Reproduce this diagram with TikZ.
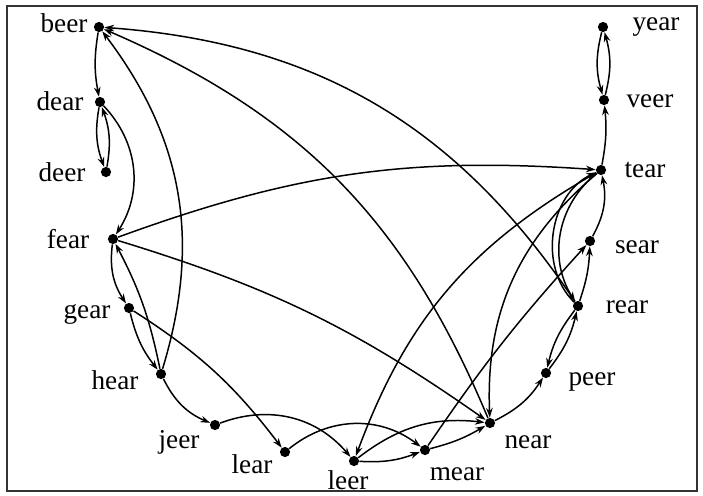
\documentclass[tikz,border=0pt]{standalone}
\usepackage{fontspec}
\setmainfont{Liberation Serif}
\usetikzlibrary{arrows.meta}

\begin{document}
\begin{tikzpicture}[x=0.02cm,y=-0.02cm,
  dot/.style={circle,fill,inner sep=0pt,minimum size=5.8pt},
  word/.style={anchor=base,inner sep=0pt,font=\fontsize{15.5}{18}\selectfont},
  link/.style={line width=0.85pt,-{Stealth[length=5.5pt,width=3.8pt]}}]
\useasboundingbox (0,0) rectangle (703,495);
\draw[line width=1.1pt,black!80] (7,6) rectangle (697,491);
% words: name / dot / baseline of the word
\foreach \n/\x/\y/\lx/\ly in {beer/99/27/64/32, dear/100/102/60/110, deer/106/172/62/181,
    fear/113/239/68/248, gear/129/308/87/318, hear/161/374/115/389, jeer/215/425/179/448,
    lear/285/452/252/473, leer/354/461/348/489, mear/425/450/457/480, near/490/423/528/448,
    peer/546/373/592/385, rear/578/306/627/313, sear/590/241/637/253, tear/601/170/645/177,
    veer/604/100/650/107, year/603/27/656/30} {
  \node[dot] (\n) at (\x,\y) {};
  \node[word] (\n-w) at (\lx,\ly) {\n};
}
% one-letter changes, positive = bend left
\foreach \a/\b/\o in {beer/dear/-10, dear/deer/-15, deer/dear/-15, dear/fear/38,
    hear/beer/-27, fear/gear/-20, hear/fear/-8, gear/hear/-12, gear/lear/10,
    hear/jeer/-20, jeer/leer/35, lear/mear/38, leer/mear/-12, leer/near/22,
    mear/near/-8, near/peer/-15, peer/rear/-12, rear/peer/-12, rear/sear/-8,
    sear/tear/-20, tear/veer/-8, veer/year/-15, year/veer/-15, rear/tear/55,
    tear/rear/-42, tear/leer/-20, tear/near/-26, mear/sear/4, fear/tear/12,
    fear/near/9, near/beer/-22, rear/beer/-26}
  \draw[link] (\a) to[bend left=\o] (\b);
\end{tikzpicture}
\end{document}
